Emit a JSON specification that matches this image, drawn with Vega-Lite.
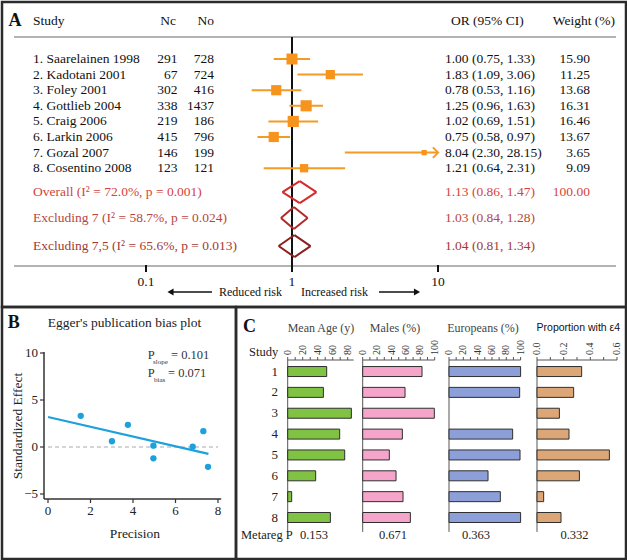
{
  "$schema": "https://vega.github.io/schema/vega-lite/v6.json",
  "padding": 0,
  "background": "white",
  "spacing": 0,
  "bounds": "flush",
  "config": {
    "font": "Liberation Serif",
    "view": {"stroke": "#2b2b2b", "strokeWidth": 2.5},
    "axis": {"grid": false}
  },
  "datasets": {
    "studies": [
      {"study": 1, "label": "1. Saarelainen 1998", "nc": 291, "no": 728, "or": 1.00, "lo": 0.75, "hi": 1.33, "ci": "1.00 (0.75, 1.33)", "weight": 15.90},
      {"study": 2, "label": "2. Kadotani 2001", "nc": 67, "no": 724, "or": 1.83, "lo": 1.09, "hi": 3.06, "ci": "1.83 (1.09, 3.06)", "weight": 11.25},
      {"study": 3, "label": "3. Foley 2001", "nc": 302, "no": 416, "or": 0.78, "lo": 0.53, "hi": 1.16, "ci": "0.78  (0.53, 1.16)", "weight": 13.68},
      {"study": 4, "label": "4. Gottlieb 2004", "nc": 338, "no": 1437, "or": 1.25, "lo": 0.96, "hi": 1.63, "ci": "1.25 (0.96, 1.63)", "weight": 16.31},
      {"study": 5, "label": "5. Craig 2006", "nc": 219, "no": 186, "or": 1.02, "lo": 0.69, "hi": 1.51, "ci": "1.02 (0.69, 1.51)", "weight": 16.46},
      {"study": 6, "label": "6. Larkin 2006", "nc": 415, "no": 796, "or": 0.75, "lo": 0.58, "hi": 0.97, "ci": "0.75 (0.58, 0.97)", "weight": 13.67},
      {"study": 7, "label": "7. Gozal 2007", "nc": 146, "no": 199, "or": 8.04, "lo": 2.30, "hi": 28.15, "ci": "8.04 (2.30, 28.15)", "weight": 3.65},
      {"study": 8, "label": "8. Cosentino 2008", "nc": 123, "no": 121, "or": 1.21, "lo": 0.64, "hi": 2.31, "ci": "1.21 (0.64, 2.31)", "weight": 9.09}
    ],
    "summary": [
      {"grp": "Overall", "label": "Overall  (I² = 72.0%, p = 0.001)", "or": 1.13, "lo": 0.86, "hi": 1.47, "ci": "1.13 (0.86, 1.47)", "weight": "100.00", "row": 9.53},
      {"grp": "Excluding 7", "label": "Excluding 7  (I² = 58.7%, p = 0.024)", "or": 1.03, "lo": 0.84, "hi": 1.28, "ci": "1.03 (0.84, 1.28)", "row": 11.19},
      {"grp": "Excluding 7,5", "label": "Excluding 7,5  (I² = 65.6%, p = 0.013)", "or": 1.04, "lo": 0.81, "hi": 1.34, "ci": "1.04 (0.81, 1.34)", "row": 12.99}
    ],
    "ticksA": [{"v": 0.1}, {"v": 1}, {"v": 10}],
    "ticksBx": [{"v": 0}, {"v": 2}, {"v": 4}, {"v": 6}, {"v": 8}],
    "ticksBy": [{"v": -5}, {"v": 0}, {"v": 5}, {"v": 10}],
    "egger": [
      {"precision": 1.54, "effect": 3.32},
      {"precision": 3.01, "effect": 0.61},
      {"precision": 3.76, "effect": 2.36},
      {"precision": 4.96, "effect": 0.14},
      {"precision": 4.96, "effect": -1.21},
      {"precision": 6.81, "effect": 0.04},
      {"precision": 7.31, "effect": 1.68},
      {"precision": 7.53, "effect": -2.11}
    ],
    "panelc": [
      {"study": 1, "metric": "age", "value": 52.0},
      {"study": 2, "metric": "age", "value": 47.6},
      {"study": 3, "metric": "age", "value": 84.9},
      {"study": 4, "metric": "age", "value": 69.3},
      {"study": 5, "metric": "age", "value": 76.0},
      {"study": 6, "metric": "age", "value": 37.3},
      {"study": 7, "metric": "age", "value": 5.3},
      {"study": 8, "metric": "age", "value": 56.9},
      {"study": 1, "metric": "males", "value": 82.4},
      {"study": 2, "metric": "males", "value": 58.8},
      {"study": 3, "metric": "males", "value": 99.5},
      {"study": 4, "metric": "males", "value": 55.1},
      {"study": 5, "metric": "males", "value": 37.0},
      {"study": 6, "metric": "males", "value": 46.3},
      {"study": 7, "metric": "males", "value": 56.0},
      {"study": 8, "metric": "males", "value": 66.2},
      {"study": 1, "metric": "eur", "value": 100},
      {"study": 2, "metric": "eur", "value": 98.7},
      {"study": 4, "metric": "eur", "value": 88.9},
      {"study": 5, "metric": "eur", "value": 99.2},
      {"study": 6, "metric": "eur", "value": 54.5},
      {"study": 7, "metric": "eur", "value": 71.7},
      {"study": 8, "metric": "eur", "value": 100},
      {"study": 1, "metric": "e4", "value": 0.335},
      {"study": 2, "metric": "e4", "value": 0.275},
      {"study": 3, "metric": "e4", "value": 0.168},
      {"study": 4, "metric": "e4", "value": 0.24},
      {"study": 5, "metric": "e4", "value": 0.543},
      {"study": 6, "metric": "e4", "value": 0.318},
      {"study": 7, "metric": "e4", "value": 0.05},
      {"study": 8, "metric": "e4", "value": 0.18}
    ],
    "ticksC": [
      {"metric": "age", "v": 0}, {"metric": "age", "v": 10}, {"metric": "age", "v": 20}, {"metric": "age", "v": 30}, {"metric": "age", "v": 40},
      {"metric": "age", "v": 50}, {"metric": "age", "v": 60}, {"metric": "age", "v": 70}, {"metric": "age", "v": 80},
      {"metric": "males", "v": 0}, {"metric": "males", "v": 10}, {"metric": "males", "v": 20}, {"metric": "males", "v": 30}, {"metric": "males", "v": 40}, {"metric": "males", "v": 50},
      {"metric": "males", "v": 60}, {"metric": "males", "v": 70}, {"metric": "males", "v": 80}, {"metric": "males", "v": 90}, {"metric": "males", "v": 100},
      {"metric": "eur", "v": 0}, {"metric": "eur", "v": 10}, {"metric": "eur", "v": 20}, {"metric": "eur", "v": 30}, {"metric": "eur", "v": 40}, {"metric": "eur", "v": 50},
      {"metric": "eur", "v": 60}, {"metric": "eur", "v": 70}, {"metric": "eur", "v": 80}, {"metric": "eur", "v": 90}, {"metric": "eur", "v": 100},
      {"metric": "e4", "v": 0}, {"metric": "e4", "v": 0.1}, {"metric": "e4", "v": 0.2}, {"metric": "e4", "v": 0.3}, {"metric": "e4", "v": 0.4}, {"metric": "e4", "v": 0.5}, {"metric": "e4", "v": 0.6}
    ],
    "metareg": [
      {"metric": "age", "p": "0.153"},
      {"metric": "males", "p": "0.671"},
      {"metric": "eur", "p": "0.363"},
      {"metric": "e4", "p": "0.332"}
    ]
  },
  "vconcat": [
    {
      "width": 624,
      "height": 305,
      "layer": [
        {"data": {"values": [{}]}, "mark": {"type": "rule", "color": "#9a9a9a", "strokeWidth": 1.5},
         "encoding": {"x": {"datum": 0.01247, "type": "quantitative", "axis": null}, "x2": {"datum": 165.66}, "y": {"datum": -0.41, "type": "quantitative", "axis": null}}},
        {"data": {"values": [{}]}, "mark": {"type": "rule", "color": "#9a9a9a", "strokeWidth": 1.5},
         "encoding": {"x": {"datum": 0.01247, "type": "quantitative", "axis": null}, "x2": {"datum": 165.66}, "y": {"datum": 14.269, "type": "quantitative", "axis": null}}},
        {"data": {"values": [{}]}, "mark": {"type": "rule", "color": "#111111", "strokeWidth": 2},
         "encoding": {
           "x": {"datum": 1, "type": "quantitative", "scale": {"type": "log", "domain": [0.010321, 193.97], "nice": false}, "axis": null},
           "y": {"datum": -0.41, "type": "quantitative", "scale": {"domain": [-2.654, 16.897], "reverse": true, "nice": false, "zero": false}, "axis": null},
           "y2": {"datum": 14.269}
         }},
        {"data": {"name": "ticksA"}, "mark": {"type": "rule", "color": "#111111", "strokeWidth": 2, "yOffset": -1, "y2Offset": 6},
         "encoding": {"x": {"field": "v", "type": "quantitative", "axis": null}, "y": {"datum": 14.269, "type": "quantitative", "axis": null}, "y2": {"datum": 14.269}}},
        {"data": {"name": "ticksA"}, "mark": {"type": "text", "fontSize": 13.5, "color": "#111111"},
         "encoding": {"x": {"field": "v", "type": "quantitative", "axis": null}, "y": {"datum": 15.295, "type": "quantitative", "axis": null}, "text": {"field": "v", "type": "quantitative", "format": "~g"}}},
        {"data": {"name": "studies"}, "transform": [{"filter": "datum.hi <= 10"}], "mark": {"type": "rule", "color": "#f39b22", "strokeWidth": 2},
         "encoding": {"x": {"field": "lo", "type": "quantitative", "axis": null}, "x2": {"field": "hi"}, "y": {"field": "study", "type": "quantitative", "axis": null}}},
        {"data": {"name": "studies"}, "transform": [{"filter": "datum.hi > 10"}], "mark": {"type": "rule", "color": "#f39b22", "strokeWidth": 2},
         "encoding": {"x": {"field": "lo", "type": "quantitative", "axis": null}, "x2": {"datum": 10}, "y": {"field": "study", "type": "quantitative", "axis": null}}},
        {"data": {"name": "studies"}, "transform": [{"filter": "datum.hi > 10"}], "mark": {"type": "point", "shape": "M-0.5,-1L0.5,0L-0.5,1", "filled": false, "stroke": "#f39b22", "strokeWidth": 2, "size": 110, "opacity": 1, "xOffset": -2.5},
         "encoding": {"x": {"datum": 10, "type": "quantitative", "axis": null}, "y": {"field": "study", "type": "quantitative", "axis": null}}},
        {"data": {"name": "studies"}, "mark": {"type": "square", "filled": true, "color": "#f7941d", "opacity": 1},
         "encoding": {"x": {"field": "or", "type": "quantitative", "axis": null}, "y": {"field": "study", "type": "quantitative", "axis": null},
                      "size": {"field": "weight", "type": "quantitative", "scale": {"domain": [0, 20], "range": [0, 152]}, "legend": null}}},
        {"data": {"name": "studies"}, "mark": {"type": "text", "align": "left", "fontSize": 13.5, "color": "#111111"},
         "encoding": {"x": {"datum": 0.016827, "type": "quantitative", "axis": null}, "y": {"field": "study", "type": "quantitative", "axis": null}, "text": {"field": "label"}}},
        {"data": {"name": "studies"}, "mark": {"type": "text", "align": "right", "fontSize": 13.5, "color": "#111111"},
         "encoding": {"x": {"datum": 0.1643, "type": "quantitative", "axis": null}, "y": {"field": "study", "type": "quantitative", "axis": null}, "text": {"field": "nc", "type": "quantitative", "format": "d"}}},
        {"data": {"name": "studies"}, "mark": {"type": "text", "align": "right", "fontSize": 13.5, "color": "#111111"},
         "encoding": {"x": {"datum": 0.29219, "type": "quantitative", "axis": null}, "y": {"field": "study", "type": "quantitative", "axis": null}, "text": {"field": "no", "type": "quantitative", "format": "d"}}},
        {"data": {"name": "studies"}, "mark": {"type": "text", "align": "left", "fontSize": 13.5, "color": "#111111"},
         "encoding": {"x": {"datum": 11.167, "type": "quantitative", "axis": null}, "y": {"field": "study", "type": "quantitative", "axis": null}, "text": {"field": "ci"}}},
        {"data": {"name": "studies"}, "mark": {"type": "text", "align": "right", "fontSize": 13.5, "color": "#111111"},
         "encoding": {"x": {"datum": 109.93, "type": "quantitative", "axis": null}, "y": {"field": "study", "type": "quantitative", "axis": null}, "text": {"field": "weight", "type": "quantitative", "format": ".2f"}}},
        {"data": {"name": "summary"}, "mark": {"type": "rule", "strokeWidth": 2, "y2Offset": -11},
         "encoding": {"x": {"field": "lo", "type": "quantitative", "axis": null}, "x2": {"field": "or"}, "y": {"field": "row", "type": "quantitative", "axis": null}, "y2": {"field": "row"},
                      "stroke": {"field": "grp", "type": "nominal", "scale": {"domain": ["Overall", "Excluding 7", "Excluding 7,5"], "range": ["#d42b2b", "#b02a2a", "#8b1f1f"]}, "legend": null}}},
        {"data": {"name": "summary"}, "mark": {"type": "rule", "strokeWidth": 2, "yOffset": -11},
         "encoding": {"x": {"field": "or", "type": "quantitative", "axis": null}, "x2": {"field": "hi"}, "y": {"field": "row", "type": "quantitative", "axis": null}, "y2": {"field": "row"},
                      "stroke": {"field": "grp", "type": "nominal", "legend": null}}},
        {"data": {"name": "summary"}, "mark": {"type": "rule", "strokeWidth": 2, "y2Offset": 11},
         "encoding": {"x": {"field": "lo", "type": "quantitative", "axis": null}, "x2": {"field": "or"}, "y": {"field": "row", "type": "quantitative", "axis": null}, "y2": {"field": "row"},
                      "stroke": {"field": "grp", "type": "nominal", "legend": null}}},
        {"data": {"name": "summary"}, "mark": {"type": "rule", "strokeWidth": 2, "yOffset": 11},
         "encoding": {"x": {"field": "or", "type": "quantitative", "axis": null}, "x2": {"field": "hi"}, "y": {"field": "row", "type": "quantitative", "axis": null}, "y2": {"field": "row"},
                      "stroke": {"field": "grp", "type": "nominal", "legend": null}}},
        {"data": {"name": "summary"}, "mark": {"type": "text", "align": "left", "fontSize": 13.5},
         "encoding": {"x": {"datum": 0.016827, "type": "quantitative", "axis": null}, "y": {"field": "row", "type": "quantitative", "axis": null}, "text": {"field": "label"},
                      "fill": {"field": "grp", "type": "nominal", "scale": {"domain": ["Overall", "Excluding 7", "Excluding 7,5"], "range": ["#d6433a", "#b8463f", "#a33a33"]}, "legend": null}}},
        {"data": {"name": "summary"}, "mark": {"type": "text", "align": "left", "fontSize": 13.5},
         "encoding": {"x": {"datum": 11.167, "type": "quantitative", "axis": null}, "y": {"field": "row", "type": "quantitative", "axis": null}, "text": {"field": "ci"},
                      "fill": {"field": "grp", "type": "nominal", "legend": null}}},
        {"data": {"name": "summary"}, "transform": [{"filter": "isValid(datum.weight)"}], "mark": {"type": "text", "align": "right", "fontSize": 13.5},
         "encoding": {"x": {"datum": 109.93, "type": "quantitative", "axis": null}, "y": {"field": "row", "type": "quantitative", "axis": null}, "text": {"field": "weight"},
                      "fill": {"field": "grp", "type": "nominal", "legend": null}}},
        {"data": {"values": [{}]}, "mark": {"type": "text", "align": "left", "fontSize": 18, "fontWeight": "bold", "color": "#111111"},
         "encoding": {"x": {"datum": 0.011432, "type": "quantitative", "axis": null}, "y": {"datum": -1.436, "type": "quantitative", "axis": null}, "text": {"value": "A"}}},
        {"data": {"values": [{}]}, "mark": {"type": "text", "align": "left", "fontSize": 13.5, "color": "#111111"},
         "encoding": {"x": {"datum": 0.016827, "type": "quantitative", "axis": null}, "y": {"datum": -1.436, "type": "quantitative", "axis": null}, "text": {"value": "Study"}}},
        {"data": {"values": [{}]}, "mark": {"type": "text", "align": "right", "fontSize": 13.5, "color": "#111111"},
         "encoding": {"x": {"datum": 0.1605, "type": "quantitative", "axis": null}, "y": {"datum": -1.436, "type": "quantitative", "axis": null}, "text": {"value": "Nc"}}},
        {"data": {"values": [{}]}, "mark": {"type": "text", "align": "right", "fontSize": 13.5, "color": "#111111"},
         "encoding": {"x": {"datum": 0.29219, "type": "quantitative", "axis": null}, "y": {"datum": -1.436, "type": "quantitative", "axis": null}, "text": {"value": "No"}}},
        {"data": {"values": [{}]}, "mark": {"type": "text", "align": "left", "fontSize": 13.5, "color": "#111111"},
         "encoding": {"x": {"datum": 12.275, "type": "quantitative", "axis": null}, "y": {"datum": -1.436, "type": "quantitative", "axis": null}, "text": {"value": "OR (95% CI)"}}},
        {"data": {"values": [{}]}, "mark": {"type": "text", "align": "right", "fontSize": 13.5, "color": "#111111"},
         "encoding": {"x": {"datum": 163.1, "type": "quantitative", "axis": null}, "y": {"datum": -1.436, "type": "quantitative", "axis": null}, "text": {"value": "Weight (%)"}}},
        {"data": {"values": [{}]}, "mark": {"type": "rule", "color": "#111111", "strokeWidth": 1.3},
         "encoding": {"x": {"datum": 0.1531, "type": "quantitative", "axis": null}, "x2": {"datum": 0.2831}, "y": {"datum": 15.936, "type": "quantitative", "axis": null}}},
        {"data": {"values": [{}]}, "mark": {"type": "point", "shape": "triangle-left", "filled": true, "color": "#111111", "size": 50, "opacity": 1},
         "encoding": {"x": {"datum": 0.1472, "type": "quantitative", "axis": null}, "y": {"datum": 15.936, "type": "quantitative", "axis": null}}},
        {"data": {"values": [{}]}, "mark": {"type": "rule", "color": "#111111", "strokeWidth": 1.3},
         "encoding": {"x": {"datum": 3.943, "type": "quantitative", "axis": null}, "x2": {"datum": 6.848}, "y": {"datum": 15.936, "type": "quantitative", "axis": null}}},
        {"data": {"values": [{}]}, "mark": {"type": "point", "shape": "triangle-right", "filled": true, "color": "#111111", "size": 50, "opacity": 1},
         "encoding": {"x": {"datum": 7.18, "type": "quantitative", "axis": null}, "y": {"datum": 15.936, "type": "quantitative", "axis": null}}},
        {"data": {"values": [{}]}, "mark": {"type": "text", "align": "right", "fontSize": 12, "color": "#111111"},
         "encoding": {"x": {"datum": 0.854, "type": "quantitative", "axis": null}, "y": {"datum": 15.936, "type": "quantitative", "axis": null}, "text": {"value": "Reduced risk"}}},
        {"data": {"values": [{}]}, "mark": {"type": "text", "align": "left", "fontSize": 12, "color": "#111111"},
         "encoding": {"x": {"datum": 1.1527, "type": "quantitative", "axis": null}, "y": {"datum": 15.936, "type": "quantitative", "axis": null}, "text": {"value": "Increased risk"}}}
      ]
    },
    {
      "hconcat": [
        {
          "width": 234,
          "height": 252,
          "layer": [
            {"data": {"values": [{}]}, "mark": {"type": "rule", "color": "#aaaaaa", "strokeWidth": 1, "strokeDash": [4, 3]},
             "encoding": {"x": {"datum": 0, "type": "quantitative", "axis": null}, "x2": {"datum": 8}, "y": {"datum": 0, "type": "quantitative", "axis": null}}},
            {"data": {"values": [{}]}, "mark": {"type": "rule", "color": "#333333", "strokeWidth": 1.5},
             "encoding": {"x": {"datum": -0.188, "type": "quantitative", "axis": null}, "x2": {"datum": 8.15}, "y": {"datum": -5.53, "type": "quantitative", "axis": null}}},
            {"data": {"values": [{}]}, "mark": {"type": "rule", "color": "#333333", "strokeWidth": 1.5},
             "encoding": {"x": {"datum": -0.188, "type": "quantitative", "axis": null}, "y": {"datum": -5.53, "type": "quantitative", "axis": null}, "y2": {"datum": 10.1}}},
            {"data": {"name": "ticksBx"}, "mark": {"type": "rule", "color": "#333333", "strokeWidth": 1.2, "y2Offset": 4},
             "encoding": {"x": {"field": "v", "type": "quantitative", "axis": null}, "y": {"datum": -5.53, "type": "quantitative", "axis": null}, "y2": {"datum": -5.53}}},
            {"data": {"name": "ticksBx"}, "mark": {"type": "text", "fontSize": 13, "color": "#222222"},
             "encoding": {"x": {"field": "v", "type": "quantitative", "axis": null}, "y": {"datum": -6.81, "type": "quantitative", "axis": null}, "text": {"field": "v", "type": "quantitative", "format": "d"}}},
            {"data": {"name": "ticksBy"}, "mark": {"type": "rule", "color": "#333333", "strokeWidth": 1.2, "x2Offset": -4},
             "encoding": {"x": {"datum": -0.188, "type": "quantitative", "axis": null}, "x2": {"datum": -0.188}, "y": {"field": "v", "type": "quantitative", "axis": null}}},
            {"data": {"name": "ticksBy"}, "mark": {"type": "text", "align": "right", "fontSize": 13, "color": "#222222"},
             "encoding": {"x": {"datum": -0.47, "type": "quantitative", "axis": null}, "y": {"field": "v", "type": "quantitative", "axis": null}, "text": {"field": "v", "type": "quantitative", "format": "d"}}},
            {"data": {"name": "egger"}, "transform": [{"regression": "effect", "on": "precision", "extent": [0, 7.55]}],
             "mark": {"type": "line", "color": "#1da1dc", "strokeWidth": 2.2},
             "encoding": {"x": {"field": "precision", "type": "quantitative", "axis": null}, "y": {"field": "effect", "type": "quantitative", "axis": null}}},
            {"data": {"name": "egger"}, "mark": {"type": "circle", "color": "#1da1dc", "size": 40, "opacity": 1},
             "encoding": {
               "x": {"field": "precision", "type": "quantitative", "scale": {"domain": [-2.1647, 8.847], "nice": false, "zero": false}, "axis": null},
               "y": {"field": "effect", "type": "quantitative", "scale": {"domain": [-11.915, 14.894], "nice": false, "zero": false}, "axis": null}
             }},
            {"data": {"values": [{}]}, "mark": {"type": "text", "align": "left", "fontSize": 18, "fontWeight": "bold", "color": "#111111"},
             "encoding": {"x": {"datum": -1.897, "type": "quantitative", "axis": null}, "y": {"datum": 13.19, "type": "quantitative", "axis": null}, "text": {"value": "B"}}},
            {"data": {"values": [{}]}, "mark": {"type": "text", "align": "center", "fontSize": 13.5, "color": "#222222"},
             "encoding": {"x": {"datum": 3.6, "type": "quantitative", "axis": null}, "y": {"datum": 13.19, "type": "quantitative", "axis": null}, "text": {"value": "Egger's publication bias plot"}}},
            {"data": {"values": [{}]}, "mark": {"type": "text", "align": "center", "fontSize": 13.5, "color": "#222222"},
             "encoding": {"x": {"datum": 4.094, "type": "quantitative", "axis": null}, "y": {"datum": -9.255, "type": "quantitative", "axis": null}, "text": {"value": "Precision"}}},
            {"data": {"values": [{}]}, "mark": {"type": "text", "align": "center", "fontSize": 13.5, "angle": 270, "color": "#222222"},
             "encoding": {"x": {"datum": -1.412, "type": "quantitative", "axis": null}, "y": {"datum": 2.234, "type": "quantitative", "axis": null}, "text": {"value": "Standardized Effect"}}},
            {"data": {"values": [{}]}, "mark": {"type": "text", "align": "left", "fontSize": 12.5, "color": "#333333"},
             "encoding": {"x": {"datum": 4.692, "type": "quantitative", "axis": null}, "y": {"datum": 9.787, "type": "quantitative", "axis": null}, "text": {"value": "P"}}},
            {"data": {"values": [{}]}, "mark": {"type": "text", "align": "left", "fontSize": 7, "color": "#333333"},
             "encoding": {"x": {"datum": 4.941, "type": "quantitative", "axis": null}, "y": {"datum": 9.04, "type": "quantitative", "axis": null}, "text": {"value": "slope"}}},
            {"data": {"values": [{}]}, "mark": {"type": "text", "align": "left", "fontSize": 12.5, "color": "#333333"},
             "encoding": {"x": {"datum": 5.788, "type": "quantitative", "axis": null}, "y": {"datum": 9.787, "type": "quantitative", "axis": null}, "text": {"value": "= 0.101"}}},
            {"data": {"values": [{}]}, "mark": {"type": "text", "align": "left", "fontSize": 12.5, "color": "#333333"},
             "encoding": {"x": {"datum": 4.692, "type": "quantitative", "axis": null}, "y": {"datum": 7.872, "type": "quantitative", "axis": null}, "text": {"value": "P"}}},
            {"data": {"values": [{}]}, "mark": {"type": "text", "align": "left", "fontSize": 7, "color": "#333333"},
             "encoding": {"x": {"datum": 4.988, "type": "quantitative", "axis": null}, "y": {"datum": 7.128, "type": "quantitative", "axis": null}, "text": {"value": "bias"}}},
            {"data": {"values": [{}]}, "mark": {"type": "text", "align": "left", "fontSize": 12.5, "color": "#333333"},
             "encoding": {"x": {"datum": 5.647, "type": "quantitative", "axis": null}, "y": {"datum": 7.872, "type": "quantitative", "axis": null}, "text": {"value": "= 0.071"}}}
          ]
        },
        {
          "width": 390,
          "height": 252,
          "resolve": {"scale": {"x": "independent"}, "axis": {"x": "independent"}},
          "layer": [
            {
              "layer": [
                {"data": {"values": [{}]}, "mark": {"type": "rule", "color": "#555555", "strokeWidth": 1},
                 "encoding": {"x": {"datum": 0, "type": "quantitative", "axis": null}, "y": {"datum": 0.447, "type": "quantitative", "axis": null}, "y2": {"datum": 8.69}}},
                {"data": {"values": [{}]}, "mark": {"type": "rule", "color": "#555555", "strokeWidth": 1},
                 "encoding": {"x": {"datum": 0, "type": "quantitative", "axis": null}, "x2": {"datum": 88}, "y": {"datum": 0.447, "type": "quantitative", "axis": null}}},
                {"data": {"name": "ticksC"}, "transform": [{"filter": "datum.metric === 'age'"}], "mark": {"type": "rule", "color": "#555555", "strokeWidth": 1, "y2Offset": -3},
                 "encoding": {"x": {"field": "v", "type": "quantitative", "axis": null}, "y": {"datum": 0.447, "type": "quantitative", "axis": null}, "y2": {"datum": 0.447}}},
                {"data": {"name": "ticksC"}, "transform": [{"filter": "datum.metric === 'age' && datum.v % 20 == 0"}], "mark": {"type": "text", "angle": 270, "align": "left", "baseline": "middle", "yOffset": -5, "fontSize": 10, "color": "#333333"},
                 "encoding": {"x": {"field": "v", "type": "quantitative", "axis": null}, "y": {"datum": 0.447, "type": "quantitative", "axis": null}, "text": {"field": "v", "type": "quantitative", "format": "d"}}},
                {"data": {"name": "panelc"}, "transform": [{"filter": "datum.metric === 'age'"}],
                 "mark": {"type": "bar", "orient": "horizontal", "size": 10, "color": "#80c342", "stroke": "#2f2f2f", "strokeWidth": 1},
                 "encoding": {
                   "x": {"field": "value", "type": "quantitative", "scale": {"domain": [-68.93, 451.07], "nice": false, "zero": false}, "axis": null},
                   "x2": {"datum": 0},
                   "y": {"field": "study", "type": "quantitative", "scale": {"domain": [-1.855, 9.75], "reverse": true, "nice": false, "zero": false}, "axis": null}
                 }},
                {"data": {"name": "panelc"}, "transform": [{"filter": "datum.metric === 'age'"}], "mark": {"type": "text", "align": "right", "fontSize": 13, "color": "#222222"},
                 "encoding": {"x": {"datum": -12.93, "type": "quantitative", "axis": null}, "y": {"field": "study", "type": "quantitative", "axis": null}, "text": {"field": "study", "type": "quantitative", "format": "d"}}},
                {"data": {"values": [{}]}, "mark": {"type": "text", "align": "center", "fontSize": 12, "color": "#444444"},
                 "encoding": {"x": {"datum": 44.4, "type": "quantitative", "axis": null}, "y": {"datum": -1.072, "type": "quantitative", "axis": null}, "text": {"value": "Mean Age (y)"}}},
                {"data": {"name": "metareg"}, "transform": [{"filter": "datum.metric === 'age'"}], "mark": {"type": "text", "align": "center", "fontSize": 12.5, "color": "#222222"},
                 "encoding": {"x": {"datum": 35.1, "type": "quantitative", "axis": null}, "y": {"datum": 8.829, "type": "quantitative", "axis": null}, "text": {"field": "p"}}},
                {"data": {"values": [{}]}, "mark": {"type": "text", "align": "left", "fontSize": 18, "fontWeight": "bold", "color": "#111111"},
                 "encoding": {"x": {"datum": -59.6, "type": "quantitative", "axis": null}, "y": {"datum": -1.118, "type": "quantitative", "axis": null}, "text": {"value": "C"}}},
                {"data": {"values": [{}]}, "mark": {"type": "text", "align": "left", "fontSize": 12.5, "color": "#222222"},
                 "encoding": {"x": {"datum": -51.6, "type": "quantitative", "axis": null}, "y": {"datum": 0.079, "type": "quantitative", "axis": null}, "text": {"value": "Study"}}},
                {"data": {"values": [{}]}, "mark": {"type": "text", "align": "left", "fontSize": 12.5, "color": "#222222"},
                 "encoding": {"x": {"datum": -62.27, "type": "quantitative", "axis": null}, "y": {"datum": 8.829, "type": "quantitative", "axis": null}, "text": {"value": "Metareg P"}}}
              ]
            },
            {
              "layer": [
                {"data": {"values": [{}]}, "mark": {"type": "rule", "color": "#555555", "strokeWidth": 1},
                 "encoding": {"x": {"datum": 0, "type": "quantitative", "axis": null}, "y": {"datum": 0.447, "type": "quantitative", "axis": null}, "y2": {"datum": 8.69}}},
                {"data": {"values": [{}]}, "mark": {"type": "rule", "color": "#555555", "strokeWidth": 1},
                 "encoding": {"x": {"datum": 0, "type": "quantitative", "axis": null}, "x2": {"datum": 100}, "y": {"datum": 0.447, "type": "quantitative", "axis": null}}},
                {"data": {"name": "ticksC"}, "transform": [{"filter": "datum.metric === 'males'"}], "mark": {"type": "rule", "color": "#555555", "strokeWidth": 1, "y2Offset": -3},
                 "encoding": {"x": {"field": "v", "type": "quantitative", "axis": null}, "y": {"datum": 0.447, "type": "quantitative", "axis": null}, "y2": {"datum": 0.447}}},
                {"data": {"name": "ticksC"}, "transform": [{"filter": "datum.metric === 'males' && datum.v % 20 == 0"}], "mark": {"type": "text", "angle": 270, "align": "left", "baseline": "middle", "yOffset": -5, "fontSize": 10, "color": "#333333"},
                 "encoding": {"x": {"field": "v", "type": "quantitative", "axis": null}, "y": {"datum": 0.447, "type": "quantitative", "axis": null}, "text": {"field": "v", "type": "quantitative", "format": "d"}}},
                {"data": {"name": "panelc"}, "transform": [{"filter": "datum.metric === 'males'"}],
                 "mark": {"type": "bar", "orient": "horizontal", "size": 10, "color": "#f5a5c9", "stroke": "#2f2f2f", "strokeWidth": 1},
                 "encoding": {
                   "x": {"field": "value", "type": "quantitative", "scale": {"domain": [-175.97, 365.69], "nice": false, "zero": false}, "axis": null},
                   "x2": {"datum": 0},
                   "y": {"field": "study", "type": "quantitative", "axis": null}
                 }},
                {"data": {"values": [{}]}, "mark": {"type": "text", "align": "center", "fontSize": 12, "color": "#444444"},
                 "encoding": {"x": {"datum": 44.9, "type": "quantitative", "axis": null}, "y": {"datum": -1.072, "type": "quantitative", "axis": null}, "text": {"value": "Males (%)"}}},
                {"data": {"name": "metareg"}, "transform": [{"filter": "datum.metric === 'males'"}], "mark": {"type": "text", "align": "center", "fontSize": 12.5, "color": "#222222"},
                 "encoding": {"x": {"datum": 42.1, "type": "quantitative", "axis": null}, "y": {"datum": 8.829, "type": "quantitative", "axis": null}, "text": {"field": "p"}}}
              ]
            },
            {
              "layer": [
                {"data": {"values": [{}]}, "mark": {"type": "rule", "color": "#555555", "strokeWidth": 1},
                 "encoding": {"x": {"datum": 0, "type": "quantitative", "axis": null}, "y": {"datum": 0.447, "type": "quantitative", "axis": null}, "y2": {"datum": 8.69}}},
                {"data": {"values": [{}]}, "mark": {"type": "rule", "color": "#555555", "strokeWidth": 1},
                 "encoding": {"x": {"datum": 0, "type": "quantitative", "axis": null}, "x2": {"datum": 100}, "y": {"datum": 0.447, "type": "quantitative", "axis": null}}},
                {"data": {"name": "ticksC"}, "transform": [{"filter": "datum.metric === 'eur'"}], "mark": {"type": "rule", "color": "#555555", "strokeWidth": 1, "y2Offset": -3},
                 "encoding": {"x": {"field": "v", "type": "quantitative", "axis": null}, "y": {"datum": 0.447, "type": "quantitative", "axis": null}, "y2": {"datum": 0.447}}},
                {"data": {"name": "ticksC"}, "transform": [{"filter": "datum.metric === 'eur' && datum.v % 20 == 0"}], "mark": {"type": "text", "angle": 270, "align": "left", "baseline": "middle", "yOffset": -5, "fontSize": 10, "color": "#333333"},
                 "encoding": {"x": {"field": "v", "type": "quantitative", "axis": null}, "y": {"datum": 0.447, "type": "quantitative", "axis": null}, "text": {"field": "v", "type": "quantitative", "format": "d"}}},
                {"data": {"name": "panelc"}, "transform": [{"filter": "datum.metric === 'eur'"}],
                 "mark": {"type": "bar", "orient": "horizontal", "size": 10, "color": "#8d9fd9", "stroke": "#2f2f2f", "strokeWidth": 1},
                 "encoding": {
                   "x": {"field": "value", "type": "quantitative", "scale": {"domain": [-297.49, 247.21], "nice": false, "zero": false}, "axis": null},
                   "x2": {"datum": 0},
                   "y": {"field": "study", "type": "quantitative", "axis": null}
                 }},
                {"data": {"values": [{}]}, "mark": {"type": "text", "align": "center", "fontSize": 12, "color": "#444444"},
                 "encoding": {"x": {"datum": 47.5, "type": "quantitative", "axis": null}, "y": {"datum": -1.072, "type": "quantitative", "axis": null}, "text": {"value": "Europeans (%)"}}},
                {"data": {"name": "metareg"}, "transform": [{"filter": "datum.metric === 'eur'"}], "mark": {"type": "text", "align": "center", "fontSize": 12.5, "color": "#222222"},
                 "encoding": {"x": {"datum": 37.7, "type": "quantitative", "axis": null}, "y": {"datum": 8.829, "type": "quantitative", "axis": null}, "text": {"field": "p"}}}
              ]
            },
            {
              "layer": [
                {"data": {"values": [{}]}, "mark": {"type": "rule", "color": "#555555", "strokeWidth": 1},
                 "encoding": {"x": {"datum": 0, "type": "quantitative", "axis": null}, "y": {"datum": 0.447, "type": "quantitative", "axis": null}, "y2": {"datum": 8.69}}},
                {"data": {"values": [{}]}, "mark": {"type": "rule", "color": "#555555", "strokeWidth": 1},
                 "encoding": {"x": {"datum": 0, "type": "quantitative", "axis": null}, "x2": {"datum": 0.6}, "y": {"datum": 0.447, "type": "quantitative", "axis": null}}},
                {"data": {"name": "ticksC"}, "transform": [{"filter": "datum.metric === 'e4'"}], "mark": {"type": "rule", "color": "#555555", "strokeWidth": 1, "y2Offset": -3},
                 "encoding": {"x": {"field": "v", "type": "quantitative", "axis": null}, "y": {"datum": 0.447, "type": "quantitative", "axis": null}, "y2": {"datum": 0.447}}},
                {"data": {"name": "ticksC"}, "transform": [{"filter": "datum.metric === 'e4' && round(datum.v * 10) % 2 == 0"}], "mark": {"type": "text", "angle": 270, "align": "left", "baseline": "middle", "yOffset": -5, "fontSize": 10, "color": "#333333"},
                 "encoding": {"x": {"field": "v", "type": "quantitative", "axis": null}, "y": {"datum": 0.447, "type": "quantitative", "axis": null}, "text": {"field": "v", "type": "quantitative", "format": ".1f"}}},
                {"data": {"name": "panelc"}, "transform": [{"filter": "datum.metric === 'e4'"}],
                 "mark": {"type": "bar", "orient": "horizontal", "size": 10, "color": "#dca676", "stroke": "#2f2f2f", "strokeWidth": 1},
                 "encoding": {
                   "x": {"field": "value", "type": "quantitative", "scale": {"domain": [-2.2575, 0.6675], "nice": false, "zero": false}, "axis": null},
                   "x2": {"datum": 0},
                   "y": {"field": "study", "type": "quantitative", "axis": null}
                 }},
                {"data": {"values": [{}]}, "mark": {"type": "text", "align": "center", "fontSize": 10.5, "font": "Liberation Sans", "color": "#111111"},
                 "encoding": {"x": {"datum": 0.31, "type": "quantitative", "axis": null}, "y": {"datum": -1.072, "type": "quantitative", "axis": null}, "text": {"value": "Proportion with ε4"}}},
                {"data": {"name": "metareg"}, "transform": [{"filter": "datum.metric === 'e4'"}], "mark": {"type": "text", "align": "center", "fontSize": 12.5, "color": "#222222"},
                 "encoding": {"x": {"datum": 0.281, "type": "quantitative", "axis": null}, "y": {"datum": 8.829, "type": "quantitative", "axis": null}, "text": {"field": "p"}}}
              ]
            }
          ]
        }
      ],
      "spacing": 0,
      "bounds": "flush"
    }
  ]
}
